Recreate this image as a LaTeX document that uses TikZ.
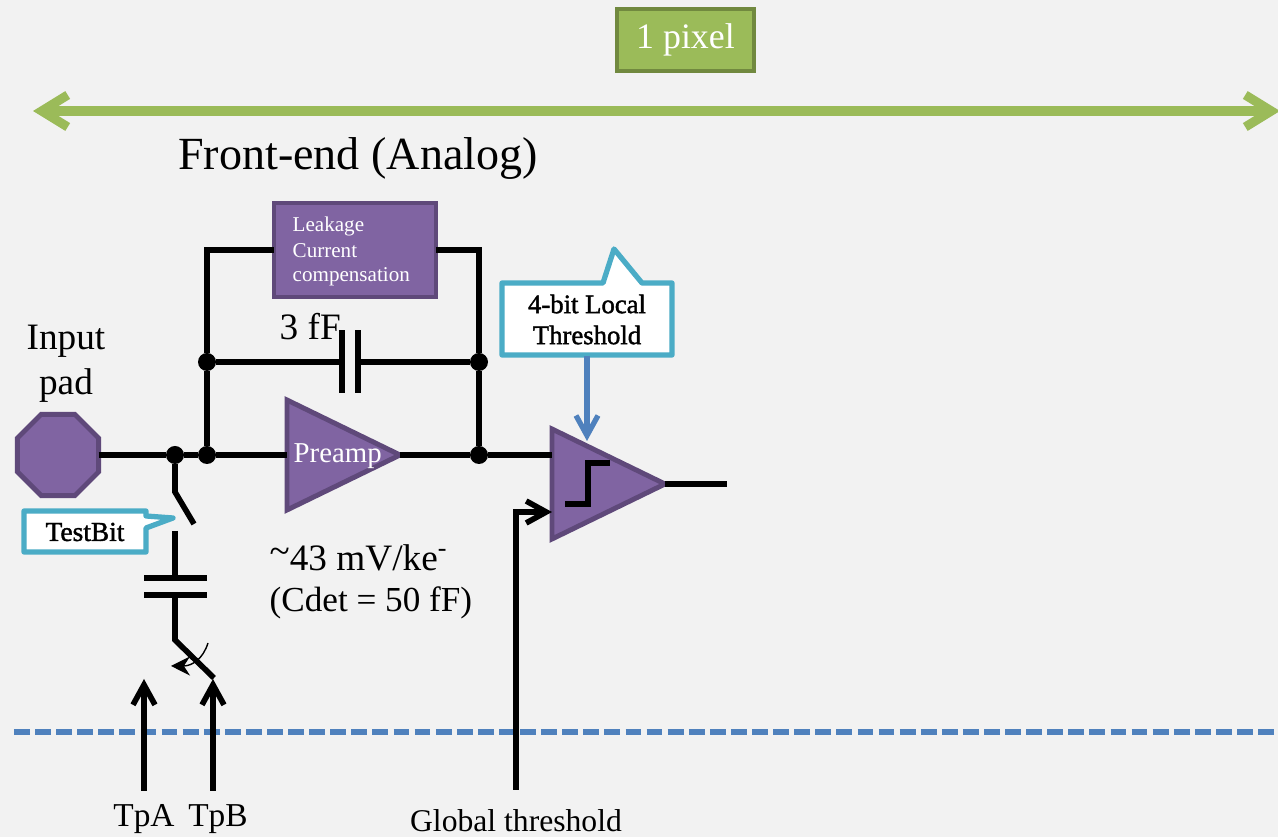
\documentclass[tikz,border=0pt]{standalone}
\usepackage{xcolor}
\usepackage{fontspec}
\setmainfont{Liberation Serif}
\newfontfamily\heavyfont[FakeBold=1.5]{Liberation Serif}
\usetikzlibrary{shapes.geometric,arrows.meta}
\definecolor{pagegray}{HTML}{F2F2F2}
\definecolor{purplefill}{HTML}{8064A2}
\definecolor{purpleline}{HTML}{5F497A}
\definecolor{greenfill}{HTML}{9BBB59}
\definecolor{greenline}{HTML}{71893F}
\definecolor{tealline}{HTML}{4BACC6}
\definecolor{blueline}{HTML}{4F81BD}
\tikzset{
    wire/.style={line width=1.6pt},
    barb/.style={-{Straight Barb[length=2mm,width=2.2mm]}},
    dot/.style={circle,fill=black,inner sep=0pt,outer sep=0pt,minimum size=1.8mm},
    plate/.style={rectangle,fill=black,inner sep=0pt,outer sep=0pt},
    block/.style={draw=purpleline,fill=purplefill,line width=1.4pt,inner sep=0pt,outer sep=0pt},
    amp/.style={block,isosceles triangle,isosceles triangle stretches,minimum width=1.10cm,minimum height=1.13cm,anchor=lower side},
    callout/.style={draw=tealline,fill=white,line width=1.5pt,line join=round},
    txt/.style={inner sep=0pt,font=\fontsize{10.6}{13}\selectfont},
    whitetxt/.style={inner sep=0pt,text=white},
}
\begin{document}
\begin{tikzpicture}
    \useasboundingbox[fill=pagegray] (0,0) rectangle (12.78,8.37);
    % top of the picture
    \node[draw=greenline,fill=greenfill,line width=1.4pt,minimum width=1.37cm,minimum height=.62cm,inner sep=0pt,text=white,font=\fontsize{10.2}{12}\selectfont] (pixel) at (6.855,7.97) {\raisebox{-1pt}{1 pixel}};
    \coordinate (spanL) at (.33,7.26);
    \coordinate (spanR) at (12.80,7.26);
    \draw[greenfill,line width=2.6pt,{Straight Barb[length=2.6mm,width=3.2mm]}-{Straight Barb[length=2.6mm,width=3.2mm]}] (spanL) -- (spanR);
    \node[txt,font=\fontsize{13.1}{16}\selectfont] (title) at (3.58,6.78) {Front-end (Analog)};
    \coordinate (digL) at (.14,1.05);
    \coordinate (digR) at (12.78,1.05);
    \draw[blueline,line width=1.5pt,dash pattern=on 4.5pt off 1.5pt] (digL) -- (digR);
    % input side
    \node[block,regular polygon,regular polygon sides=8,minimum size=.88cm] (pad) at (.58,3.82) {};
    \node[txt] (inputA) at (.66,4.96) {Input};
    \node[txt] (inputB) at (.66,4.51) {pad};
    \foreach \n/\p in {dotT/{1.75,3.82},dotA/{2.07,3.82},dotB/{4.79,3.82},dotL/{2.07,4.75},dotR/{4.79,4.75}} {
        \node[dot] (\n) at (\p) {};
    }
    % feedback
    \node[block,minimum width=1.62cm,minimum height=.94cm] (leak) at (3.55,5.87) {};
    \node[whitetxt,anchor=west,font=\fontsize{6}{7}\selectfont] (leakA) at (2.92,6.11) {Leakage};
    \node[whitetxt,anchor=west,font=\fontsize{6}{7}\selectfont] (leakB) at (2.92,5.86) {Current};
    \node[whitetxt,anchor=west,font=\fontsize{6}{7}\selectfont] (leakC) at (2.92,5.60) {compensation};
    \draw[wire] (dotA) -- (dotL) |- (leak.west);
    \draw[wire] (dotB) -- (dotR) |- (leak.east);
    \node[plate,minimum width=1.6pt,minimum height=.63cm] (capW) at (3.42,4.75) {};
    \node[plate,minimum width=1.6pt,minimum height=.63cm] (capE) at (3.58,4.75) {};
    \draw[wire] (dotL) -- (capW);
    \draw[wire] (capE) -- (dotR);
    \node[txt,anchor=west] (capF) at (2.79,5.10) {3 fF};
    % amplifiers
    \node[amp] (preamp) at (2.87,3.82) {};
    \node[whitetxt,anchor=west,font=\fontsize{8.2}{10}\selectfont] (preampT) at (2.93,3.81) {Preamp};
    \node[amp] (comp) at (5.52,3.53) {};
    \coordinate (compA) at (5.52,3.82);
    \coordinate (compB) at (5.52,3.25);
    \coordinate (compOut) at (7.27,3.53);
    \draw[wire] (pad) -- (dotT) -- (dotA) -- (preamp.lower side);
    \draw[wire] (preamp.apex) -- (dotB) -- (compA);
    \draw[wire] (comp.apex) -- (compOut);
    \draw[wire] (5.65,3.33) -- (5.88,3.33) -- (5.88,3.74) -- (6.10,3.74);
    \node[txt,anchor=west] (gainA) at (2.69,2.79) {\raisebox{.4ex}{\textasciitilde}43 mV/ke\textsuperscript{-}};
    \node[txt,anchor=west,font=\fontsize{10}{12}\selectfont] (gainB) at (2.69,2.34) {(Cdet = 50 fF)};
    % local threshold
    \draw[callout] (5.02,5.54) -- (6.03,5.54) -- (6.14,5.88) -- (6.42,5.54) -- (6.72,5.54) -- (6.72,4.82) -- (5.02,4.82) -- cycle;
    \node[txt,font=\heavyfont\fontsize{7.6}{9}\selectfont] (localA) at (5.87,5.33) {4-bit Local};
    \node[txt,font=\heavyfont\fontsize{7.6}{9}\selectfont] (localB) at (5.87,5.02) {Threshold};
    \coordinate (localOut) at (5.87,4.81);
    \coordinate (localIn) at (5.87,3.96);
    \draw[blueline,line width=1.5pt,barb] (localOut) -- (localIn);
    % global threshold
    \coordinate (globalS) at (5.16,.47);
    \draw[wire,barb] (globalS) |- (compB);
    \node[txt,font=\fontsize{9}{11}\selectfont] (globalT) at (5.16,.16) {Global threshold};
    % test injection
    \coordinate (swA) at (1.75,3.45);
    \coordinate (swB) at (1.94,3.13);
    \coordinate (swC) at (1.75,3.06);
    \coordinate (swD) at (1.75,1.97);
    \coordinate (swE) at (2.14,1.59);
    \node[plate,minimum width=.63cm,minimum height=1.6pt] (inA) at (1.75,2.59) {};
    \node[plate,minimum width=.63cm,minimum height=1.6pt] (inB) at (1.75,2.42) {};
    \draw[wire] (dotT) -- (swA) -- (swB);
    \draw[wire] (swC) -- (inA);
    \draw[wire] (inB) -- (swD) -- (swE);
    \draw[thin,-{Stealth[length=1.9mm,width=1.9mm]}] (2.08,1.94) .. controls (2.03,1.78) and (1.92,1.71) .. (1.71,1.71);
    \draw[callout] (.24,3.26) -- (1.46,3.26) -- (1.46,3.21) -- (1.73,3.19) -- (1.46,3.09) -- (1.46,2.85) -- (.24,2.85) -- cycle;
    \node[txt,font=\heavyfont\fontsize{7.8}{9}\selectfont] (testbit) at (.85,3.05) {TestBit};
    \coordinate (tpAs) at (1.44,.46);
    \coordinate (tpAe) at (1.44,1.58);
    \coordinate (tpBs) at (2.13,.46);
    \coordinate (tpBe) at (2.13,1.58);
    \draw[wire,barb] (tpAs) -- (tpAe);
    \draw[wire,barb] (tpBs) -- (tpBe);
    \node[txt,font=\fontsize{9.5}{11}\selectfont] (tpA) at (1.44,.18) {TpA};
    \node[txt,font=\fontsize{9.5}{11}\selectfont] (tpB) at (2.18,.18) {TpB};
\end{tikzpicture}
\end{document}
